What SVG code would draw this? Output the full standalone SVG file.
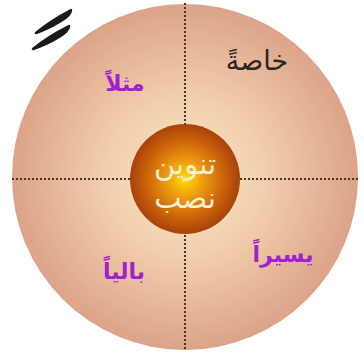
<svg xmlns="http://www.w3.org/2000/svg" width="364" height="353" viewBox="0 0 364 353">
<defs>
<radialGradient id="outerG" cx="50%" cy="50%" r="50%">
<stop offset="0" stop-color="#fbe6c4"/>
<stop offset="0.45" stop-color="#f2cfae"/>
<stop offset="1" stop-color="#dca388"/>
</radialGradient>
<radialGradient id="innerG" cx="50%" cy="50%" r="50%">
<stop offset="0" stop-color="#ffe000"/>
<stop offset="0.3" stop-color="#f0a010"/>
<stop offset="0.7" stop-color="#cc640a"/>
<stop offset="1" stop-color="#a8420a"/>
</radialGradient>
<style>
.lbl{font-family:"DejaVu Sans",sans-serif;font-weight:bold;text-anchor:middle}
.purple{fill:#a21fd0}
.dark{fill:#2a2422;font-weight:normal}
.core{fill:#fbf0d2;font-weight:normal;font-size:29px}
.dots{stroke:#4a3428;stroke-width:2;stroke-dasharray:2 2;fill:none}
.stroke{fill:#1a1a1a;stroke:#1a1a1a;stroke-width:2.5;stroke-linejoin:round}
</style>
</defs>
<rect width="364" height="353" fill="#ffffff"/>
<g id="outer">
<circle cx="185" cy="177" r="173" fill="url(#outerG)"/>
</g>
<g id="connectors">
<line class="dots" x1="12" y1="179" x2="358" y2="179"/>
<line class="dots" x1="185" y1="3" x2="185" y2="351"/>
</g>
<g id="mark">
<path class="stroke" d="M36 33 Q50 21 71 10 Q71 15 61 21 Q48 29 36 33 Z"/>
<path class="stroke" d="M33 49 Q47 37 69 26 Q69 31 59 37 Q46 45 33 49 Z"/>
</g>
<g id="core">
<circle cx="185" cy="179" r="55" fill="url(#innerG)"/>
<text class="lbl core" x="185" y="174">تنوين</text>
<text class="lbl core" x="185" y="208">نصب</text>
</g>
<g id="q1"><text class="lbl purple" x="125" y="91" font-size="22">مثلاً</text></g>
<g id="q2"><text class="lbl dark" x="257" y="70" font-size="27">خاصةً</text></g>
<g id="q3"><text class="lbl purple" x="124" y="279" font-size="22">بالياً</text></g>
<g id="q4"><text class="lbl purple" x="283" y="262" font-size="22">يسيراً</text></g>
</svg>
